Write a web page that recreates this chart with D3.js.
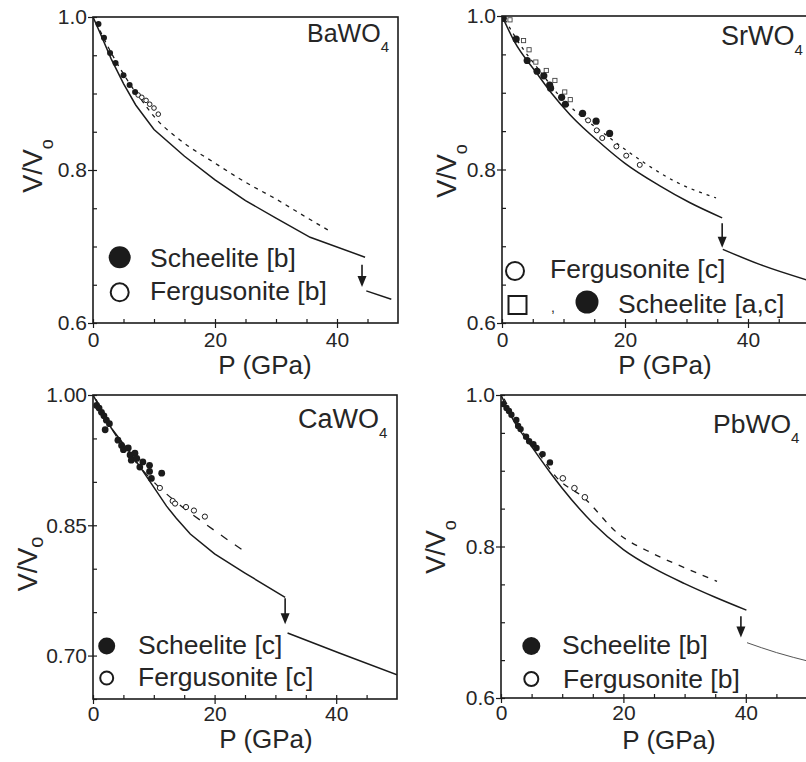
<!DOCTYPE html>
<html>
<head>
<meta charset="utf-8">
<script src="https://cdn.jsdelivr.net/npm/d3@7"></script>
<style>
  body { margin: 0; background: #fff; }
  svg { display: block; font-family: "Liberation Sans", Arial, Helvetica, sans-serif; }
</style>
</head>
<body>
<svg id="chart" width="806" height="762"></svg>
<script>
// ---------------- Data: relative volume V/V0 versus pressure P (GPa) ----------------

// BaWO4
const baScheelite   = [[0.9,0.991],[1.8,0.973],[2.8,0.953],[3.7,0.940],[5.0,0.924],[6.0,0.911],[6.9,0.902]];
const baFergusonite = [[7.4,0.898],[8.0,0.895],[8.7,0.891],[9.3,0.886],[10.0,0.881],[10.7,0.873]];
const baCalc        = [[0,1.0],[1,0.982],[3,0.945],[5,0.913],[7,0.885],[10,0.853],[15,0.818],[20,0.787],[25,0.760],[30,0.737],[35.6,0.712],[44.6,0.686]];
const baCalcHigh    = [[44.8,0.642],[48.9,0.631]];
const baFit         = [[0.5,0.993],[3,0.953],[6,0.913],[8,0.891],[10,0.870],[14.3,0.839],[20,0.809],[25,0.784],[30,0.762],[35,0.738],[39.1,0.719]];
const baArrow       = [44.1, 0.676, 0.647];

// SrWO4
const srScheelite   = [[0.2,0.997],[2.3,0.970],[4.1,0.942],[5.7,0.928],[6.8,0.922],[7.75,0.910],[7.9,0.906],[9.7,0.894],[10.3,0.885],[13.1,0.873],[15.3,0.863],[17.5,0.847]];
const srSquares     = [[1.3,0.995],[3.5,0.968],[4.4,0.956],[5.5,0.940],[7.2,0.929],[8.6,0.916],[10.2,0.901],[11.1,0.891]];
const srFergusonite = [[14.0,0.864],[15.4,0.851],[16.3,0.841],[18.6,0.830],[20.2,0.818],[22.4,0.806]];
const srCalc        = [[0,1.0],[2,0.967],[5.6,0.926],[8,0.900],[11.1,0.871],[16.5,0.831],[20,0.808],[25.6,0.779],[30.5,0.757],[35.8,0.737]];
const srCalcHigh    = [[35.9,0.696],[42,0.676],[50,0.655]];
const srFit         = [[0.5,0.995],[3,0.962],[6,0.930],[9.9,0.891],[13,0.869],[16.4,0.848],[22.9,0.810],[28,0.785],[34.8,0.763]];
const srArrow       = [35.8, 0.730, 0.698];

// CaWO4
const caScheelite   = [[0.6,0.988],[1.0,0.985],[1.4,0.980],[1.8,0.976],[2.2,0.971],[2.7,0.967],[2.0,0.960],[4.1,0.948],[4.7,0.942],[5.0,0.937],[5.8,0.939],[6.1,0.931],[6.3,0.925],[6.9,0.933],[7.2,0.927],[7.7,0.917],[8.2,0.923],[9.3,0.919],[9.3,0.912],[9.6,0.904],[11.3,0.910]];
const caFergusonite = [[11.0,0.893],[13.1,0.878],[13.5,0.875],[15.3,0.871],[16.6,0.867],[18.4,0.860]];
const caCalc        = [[0,1.0],[3,0.962],[6.6,0.929],[9.6,0.898],[12.1,0.872],[13.7,0.858],[16,0.840],[20,0.817],[25,0.795],[31.6,0.767]];
const caCalcHigh    = [[32,0.726],[40.5,0.703],[50,0.678]];
const caFit         = [[0.5,0.995],[3,0.962],[6,0.932],[11,0.893],[14,0.875],[18.6,0.851],[22,0.834],[24.9,0.820]];
const caArrow       = [31.6, 0.766, 0.736];

// PbWO4
const pbScheelite   = [[0.33,0.988],[0.9,0.983],[1.3,0.979],[1.7,0.974],[2.5,0.967],[2.8,0.959],[3.2,0.955],[4.1,0.945],[4.6,0.939],[5.3,0.935],[5.8,0.930],[6.8,0.922],[8.0,0.911]];
const pbFergusonite = [[10.1,0.890],[12.0,0.877],[13.7,0.865]];
const pbCalc        = [[0,1.0],[2,0.967],[5,0.932],[8,0.898],[10,0.877],[15,0.831],[20,0.796],[25,0.771],[30,0.751],[35,0.733],[40.1,0.716]];
const pbCalcHigh    = [[40.2,0.673],[45,0.660],[50.5,0.648]];
const pbFit         = [[0.5,0.995],[3,0.958],[6,0.925],[9.1,0.891],[13.6,0.864],[19,0.818],[25,0.790],[30,0.772],[35.3,0.754]];
const pbArrow       = [39.2, 0.708, 0.680];

// Axis ticks
const xMajorTicks = [0, 20, 40];
const xMinorTicks = d3.range(0, 50, 5);
const yMajorA = [0.6, 0.8, 1.0];
const yMinorA = d3.range(0.6, 1.0001, 0.05);
const yMajorC = [0.70, 0.85, 1.00];
const yMinorC = d3.range(0.65, 1.0001, 0.05);

// ---------------- Layout ----------------
const INK = "#1b1b1b";
const TXT = "#262626";
const svg = d3.select("#chart");

const panels = [
  { name: "Ba", title: "BaWO", titleSize: 25, left: 93, top: 17, right: 398, bottom: 323,
    yDomain: [0.6, 1.0], yMajor: yMajorA, yMinor: yMinorA, yFmt: ".1f", xPad: 4,
    calc: baCalc, calcHigh: baCalcHigh, fit: baFit, arrow: baArrow, dash: "4,5", smooth: false,
    filled: baScheelite, open: baFergusonite, squares: [], rFill: 3, rOpen: 2.3,
    titlePos: [307, 42], yLab: { x: 42, y: 166, sub: 11, subSize: 18 }, xLab: [265, 374],
    legend: [
      { type: "fill", x: 119.7, y: 257.3, r: 11, text: "Scheelite [b]", tx: 150, ty: 267 },
      { type: "open", x: 119.7, y: 292.3, r: 10, text: "Fergusonite [b]", tx: 150, ty: 300 }
    ] },
  { name: "Sr", title: "SrWO", titleSize: 27, left: 502, top: 16, right: 809.5, bottom: 323,
    yDomain: [0.6, 1.0], yMajor: yMajorA, yMinor: yMinorA, yFmt: ".1f", xPad: 4,
    calc: srCalc, calcHigh: srCalcHigh, fit: srFit, arrow: srArrow, dash: "3,5", smooth: true,
    filled: srScheelite, open: srFergusonite, squares: srSquares, rFill: 3.6, rOpen: 2.5,
    titlePos: [721, 45], yLab: { x: 456, y: 171, sub: 11, subSize: 18 }, xLab: [665, 374],
    legend: [
      { type: "open", x: 515, y: 271, r: 10, text: "Fergusonite [c]", tx: 550, ty: 278 },
      { type: "square", x: 517.5, y: 305, r: 9 },
      { type: "comma", x: 551, y: 312 },
      { type: "fill", x: 587, y: 302, r: 11.5, text: "Scheelite [a,c]", tx: 618, ty: 313 }
    ] },
  { name: "Ca", title: "CaWO", titleSize: 27, left: 93, top: 395, right: 397, bottom: 699,
    yDomain: [0.65, 1.0], yMajor: yMajorC, yMinor: yMinorC, yFmt: ".2f", xPad: 2,
    calc: caCalc, calcHigh: caCalcHigh, fit: caFit, arrow: caArrow, dash: "8,9", smooth: false,
    filled: caScheelite, open: caFergusonite, squares: [], rFill: 3.4, rOpen: 2.6,
    titlePos: [298, 428], yLab: { x: 37, y: 564, sub: 6, subSize: 20 }, xLab: [266, 748],
    legend: [
      { type: "fill", x: 106.7, y: 646, r: 8.5, text: "Scheelite [c]", tx: 138, ty: 654 },
      { type: "open", x: 106.7, y: 678, r: 7.5, text: "Fergusonite [c]", tx: 138, ty: 686 }
    ] },
  { name: "Pb", title: "PbWO", titleSize: 26.5, left: 501, top: 395, right: 807, bottom: 698,
    yDomain: [0.6, 1.0], yMajor: yMajorA, yMinor: yMinorA, yFmt: ".1f", smooth: true, xPad: 2,
    calc: pbCalc, calcHigh: pbCalcHigh, fit: pbFit, arrow: pbArrow, dash: "6,7",
    filled: pbScheelite, open: pbFergusonite, squares: [], rFill: 3.2, rOpen: 2.8,
    titlePos: [713, 433], yLab: { x: 445, y: 547, sub: 11, subSize: 18 }, xLab: [669, 749],
    legend: [
      { type: "fill", x: 531.3, y: 646, r: 9, text: "Scheelite [b]", tx: 562, ty: 654 },
      { type: "open", x: 531.3, y: 679, r: 8, text: "Fergusonite [b]", tx: 563, ty: 688 }
    ], highThin: true }
];

panels.forEach(p => {
  const g = svg.append("g").attr("class", "panel-" + p.name);
  const x = d3.scaleLinear().domain([0, 50]).range([p.left, p.right]);
  const y = d3.scaleLinear().domain(p.yDomain).range([p.bottom, p.top]);

  const clipId = "clip-" + p.name;
  g.append("clipPath").attr("id", clipId).append("rect")
    .attr("x", p.left).attr("y", p.top).attr("width", p.right - p.left).attr("height", p.bottom - p.top);

  // minor ticks, pointing inward
  g.append("g").attr("transform", `translate(0,${p.bottom})`)
    .call(d3.axisBottom(x).tickValues(xMinorTicks).tickSize(-4).tickFormat(""))
    .call(a => a.select(".domain").remove());
  g.append("g").attr("transform", `translate(${p.left},0)`)
    .call(d3.axisLeft(y).tickValues(p.yMinor).tickSize(-4).tickFormat(""))
    .call(a => a.select(".domain").remove());

  // major ticks with labels, pointing outward
  g.append("g").attr("class", "xmajor").attr("transform", `translate(0,${p.bottom})`)
    .call(d3.axisBottom(x).tickValues(xMajorTicks).tickSize(5).tickPadding(p.xPad).tickFormat(d3.format("d")))
    .call(a => a.select(".domain").remove());
  g.append("g").attr("class", "ymajor").attr("transform", `translate(${p.left},0)`)
    .call(d3.axisLeft(y).tickValues(p.yMajor).tickSize(5).tickPadding(1).tickFormat(d3.format(p.yFmt)))
    .call(a => a.select(".domain").remove());

  g.selectAll(".tick line").attr("stroke", INK).attr("stroke-width", 1.2);
  g.selectAll(".tick text").attr("fill", TXT).attr("font-size", 21)
    .attr("font-family", '"Liberation Sans", Arial, sans-serif');

  // frame
  g.append("rect").attr("x", p.left).attr("y", p.top)
    .attr("width", p.right - p.left).attr("height", p.bottom - p.top)
    .attr("fill", "none").attr("stroke", INK).attr("stroke-width", 1.6);

  const plot = g.append("g").attr("clip-path", `url(#${clipId})`);
  const straight = d3.line().x(d => x(d[0])).y(d => y(d[1]));
  const smoothLine = d3.line().x(d => x(d[0])).y(d => y(d[1])).curve(d3.curveMonotoneX);
  const curve = p.smooth ? smoothLine : straight;

  // calculated curves
  plot.append("path").datum(p.calc).attr("d", curve)
    .attr("fill", "none").attr("stroke", INK).attr("stroke-width", 1.5);
  plot.append("path").datum(p.calcHigh).attr("d", curve)
    .attr("fill", "none").attr("stroke", p.highThin ? "#555" : INK)
    .attr("stroke-width", p.highThin ? 1 : 1.5);
  // fitted equation of state (dashed)
  plot.append("path").datum(p.fit).attr("d", smoothLine)
    .attr("fill", "none").attr("stroke", INK).attr("stroke-width", 1.3)
    .attr("stroke-dasharray", p.dash);

  // transition arrow
  const [ap, av0, av1] = p.arrow;
  const ax = x(ap), ay0 = y(av0), ay1 = y(av1);
  plot.append("line").attr("x1", ax).attr("x2", ax).attr("y1", ay0).attr("y2", ay1 - 8)
    .attr("stroke", INK).attr("stroke-width", 1.6);
  plot.append("path")
    .attr("d", `M${ax - 4.5},${ay1 - 11}L${ax + 4.5},${ay1 - 11}L${ax},${ay1}Z`)
    .attr("fill", INK);

  // data points
  plot.selectAll(".sq").data(p.squares).join("rect")
    .attr("x", d => x(d[0]) - 2.1).attr("y", d => y(d[1]) - 2.1)
    .attr("width", 4.2).attr("height", 4.2)
    .attr("fill", "#fff").attr("stroke", "#444").attr("stroke-width", 0.9);
  plot.selectAll(".op").data(p.open).join("circle")
    .attr("cx", d => x(d[0])).attr("cy", d => y(d[1])).attr("r", p.rOpen)
    .attr("fill", "#fff").attr("stroke", INK).attr("stroke-width", 1);
  plot.selectAll(".fi").data(p.filled).join("circle")
    .attr("cx", d => x(d[0])).attr("cy", d => y(d[1])).attr("r", p.rFill)
    .attr("fill", INK);

  // compound label with subscript
  const t = g.append("text").attr("x", p.titlePos[0]).attr("y", p.titlePos[1])
    .attr("font-size", p.titleSize).attr("fill", TXT);
  t.append("tspan").text(p.title);
  t.append("tspan").attr("font-size", 15).attr("dy", 10).text("4");

  // axis titles
  g.append("text").attr("x", p.xLab[0]).attr("y", p.xLab[1]).attr("text-anchor", "middle")
    .attr("font-size", 26).attr("fill", TXT).text("P (GPa)");
  const yl = g.append("text")
    .attr("transform", `translate(${p.yLab.x},${p.yLab.y}) rotate(-90)`)
    .attr("text-anchor", "middle").attr("font-size", 27).attr("fill", TXT);
  yl.append("tspan").text("V/V");
  yl.append("tspan").attr("font-size", p.yLab.subSize).attr("dy", p.yLab.sub).text("o");

  // legend
  p.legend.forEach(l => {
    if (l.type === "fill") {
      g.append("circle").attr("cx", l.x).attr("cy", l.y).attr("r", l.r).attr("fill", INK);
    } else if (l.type === "open") {
      g.append("circle").attr("cx", l.x).attr("cy", l.y).attr("r", l.r - 1)
        .attr("fill", "#fff").attr("stroke", INK).attr("stroke-width", 2);
    } else if (l.type === "square") {
      g.append("rect").attr("x", l.x - l.r).attr("y", l.y - l.r)
        .attr("width", 2 * l.r).attr("height", 2 * l.r)
        .attr("fill", "#fff").attr("stroke", INK).attr("stroke-width", 2);
    } else if (l.type === "comma") {
      g.append("text").attr("x", l.x).attr("y", l.y).attr("font-size", 14)
        .attr("fill", TXT).text(",");
    }
    if (l.text) {
      g.append("text").attr("x", l.tx).attr("y", l.ty).attr("font-size", 26.5)
        .attr("fill", TXT).text(l.text);
    }
  });
});
</script>
</body>
</html>
